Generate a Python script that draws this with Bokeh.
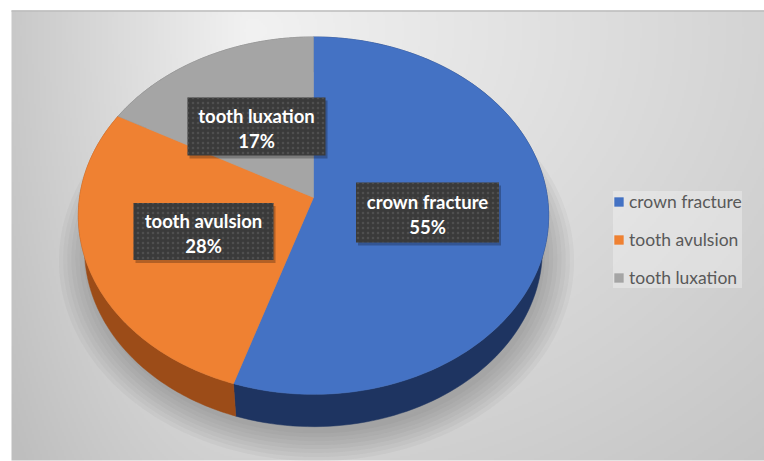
import numpy as np
from bokeh.plotting import figure
from bokeh.models import Range1d, Legend, LegendItem
from bokeh.core.properties import value
from bokeh.embed import file_html
from bokeh.resources import INLINE

# ---------------- data ----------------
categories = ["crown fracture", "tooth avulsion", "tooth luxation"]
shares = [55, 28, 17]
top_colors = ["#4472C4", "#EF8132", "#A5A5A5"]
side_colors = ["#1E3461", "#9C4C18", "#707070"]

# ---------------- layout ----------------
W, H = 764, 461
CX, CY = 313.0, 197.0          # projected pie centre (pixel coords, y down)
F, D = 1509.0, 6.45            # perspective focal / viewing distance
E = np.arcsin(0.756)           # elevation of view
THICK = 0.23                   # pie thickness
label_boxes = [(427, 212, 143, 60), (203, 231, 140, 57), (256, 126, 138, 58)]  # cx, cy, w, h (pixel)

def Y(ypix):
    return H - np.asarray(ypix, dtype=float)

def proj(theta, r=1.0, h=0.0):
    theta = np.asarray(theta, dtype=float)
    x = r * np.sin(theta)
    z = r * np.cos(theta)
    yc = h * np.cos(E) + z * np.sin(E)
    zc = D + z * np.cos(E) - h * np.sin(E)
    sx = CX + F * x / zc
    sy = CY - F * yc / zc
    return sx, Y(sy)

p = figure(width=W, height=H, x_range=Range1d(0, W), y_range=Range1d(0, H),
           output_backend="svg", toolbar_location=None, min_border=0,
           x_axis_type=None, y_axis_type=None)
p.grid.visible = False
p.outline_line_color = None
p.background_fill_color = "white"
p.border_fill_color = "white"

# ---------------- background gradient panel ----------------
x0, x1, y0, y1 = 11, 764, 10, 460
cols, rows = (x1 - x0) // 2, (y1 - y0) // 2
px = x0 + (np.arange(cols) + 0.5) * (x1 - x0) / cols
py = y1 - (np.arange(rows) + 0.5) * (y1 - y0) / rows   # row 0 at bottom
XX, YY = np.meshgrid(px, py)
dx = np.where(XX < 250, (XX - 250) / 230.0, (XX - 250) / 680.0)
dy = (YY - 30) / 520.0
dist = np.clip(np.sqrt(dx ** 2 + dy ** 2), 0, 1.3)
g = np.clip(242 - 40 * dist, 190, 245).astype(np.uint8)
img = np.zeros((rows, cols, 4), dtype=np.uint8)
img[..., 0] = g
img[..., 1] = g
img[..., 2] = g
img[..., 3] = 255
p.image_rgba(image=[img.view(np.uint32).reshape(rows, cols)], x=x0, y=H - y1, dw=x1 - x0, dh=y1 - y0)
p.segment(x0=x0, y0=H - 10.5, x1=x1, y1=H - 10.5, line_color="#bdbdbd", line_width=1.5)

# ---------------- shadow ----------------
tt = np.linspace(0, 2 * np.pi, 240)
for k in range(8):
    sx, sy = proj(tt, r=1.0 + 0.018 * k, h=-THICK - 0.02)
    p.patch(sx + 3, sy - 4, fill_color="#555555", fill_alpha=0.055, line_color=None)

# ---------------- pie ----------------
fr = np.array(shares, dtype=float) / sum(shares)
starts = np.concatenate([[0], np.cumsum(fr)[:-1]]) * 2 * np.pi
ends = np.cumsum(fr) * 2 * np.pi

# sides (drawn first: back ones are covered by the top faces)
order = [2, 0, 1]
for i in order:
    th = np.linspace(starts[i], ends[i], 120)
    tx, ty = proj(th, h=0.0)
    bx, by = proj(th[::-1], h=-THICK)
    p.patch(np.concatenate([tx, bx]), np.concatenate([ty, by]),
            fill_color=side_colors[i], line_color=side_colors[i], line_width=0.5)

top_renderers = []
for i in range(len(shares)):
    th = np.linspace(starts[i], ends[i], 160)
    tx, ty = proj(th)
    cx0, cy0 = proj(0.0, r=0.0)
    xs = np.concatenate([[cx0], tx])
    ys = np.concatenate([[cy0], ty])
    r = p.patch(xs, ys, fill_color=top_colors[i], line_color=top_colors[i], line_width=0.5)
    top_renderers.append(r)

# ---------------- data labels ----------------
for i, (bx, by, bw, bh) in enumerate(label_boxes):
    p.rect(x=bx + 2, y=Y(by + 3), width=bw, height=bh, fill_color="black", fill_alpha=0.25, line_color=None)
    p.rect(x=bx, y=Y(by), width=bw, height=bh, fill_color="#3a3a3a", line_color=None,
           hatch_pattern=".", hatch_color="#5e5e5e", hatch_scale=5, hatch_alpha=0.6)
    p.text(x=[bx], y=[Y(by - 11)], text=[categories[i]], text_color="white",
           text_font=value("Lato"), text_font_style="bold", text_font_size="18.5px",
           text_align="center", text_baseline="middle")
    p.text(x=[bx], y=[Y(by + 14)], text=[f"{shares[i]}%"], text_color="white",
           text_font=value("Lato"), text_font_style="bold", text_font_size="18.5px",
           text_align="center", text_baseline="middle")

# ---------------- legend ----------------
legend = Legend(items=[LegendItem(label=categories[i], renderers=[top_renderers[i]]) for i in range(3)],
                location=(613, H - 288), orientation="vertical",
                glyph_width=11, glyph_height=11, label_height=20, spacing=17,
                label_standoff=5, padding=9, margin=0,
                label_text_font="Lato", label_text_font_size="17.5px", label_text_color="#595959",
                background_fill_color="white", background_fill_alpha=0.3,
                border_line_color=None)
p.add_layout(legend)

open("out.html", "w").write(file_html(p, INLINE))
